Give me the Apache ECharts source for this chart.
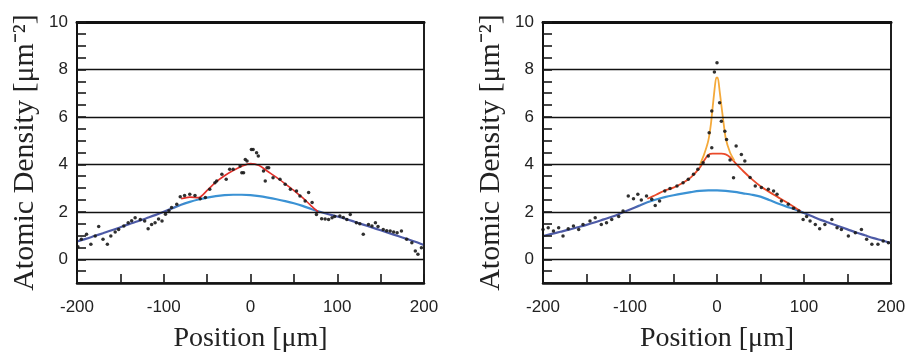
<!DOCTYPE html>
<html>
<head>
<meta charset="utf-8">
<script src="https://cdn.jsdelivr.net/npm/echarts@6/dist/echarts.min.js"></script>
<style>
html,body{margin:0;padding:0;background:#fff;}
#c{width:910px;height:360px;}
</style>
</head>
<body>
<div id="c"></div>
<script>
// ---------- data ----------
const xTickValues = [-200, -100, 0, 100, 200];
const yTickValues = [0, 2, 4, 6, 8, 10];
const gridValues = [0, 2, 4, 6, 8];

const blueX = [-200,-190,-180,-170,-160,-150,-140,-130,-120,-110,-100,-90,-80,-70,-60,-50,-40,-30,-20,-10,0,10,20,30,40,50,60,70,80,90,100,110,120,130,140,150,160,170,180,190,200];
const leftBlue = [0.75,0.86,0.98,1.10,1.22,1.35,1.48,1.60,1.73,1.86,2.00,2.15,2.30,2.42,2.52,2.60,2.66,2.70,2.72,2.72,2.70,2.66,2.60,2.53,2.45,2.36,2.25,2.12,2.00,1.90,1.80,1.70,1.58,1.46,1.34,1.22,1.10,0.98,0.86,0.74,0.60];
const rightBlue = [0.98,1.07,1.16,1.25,1.35,1.45,1.56,1.68,1.80,1.95,2.10,2.25,2.40,2.52,2.62,2.70,2.77,2.83,2.88,2.90,2.90,2.88,2.84,2.78,2.72,2.64,2.50,2.35,2.22,2.10,1.95,1.80,1.65,1.52,1.39,1.26,1.13,1.01,0.89,0.79,0.68];

const leftRedX = [-80,-70,-60,-50,-40,-30,-20,-10,0,10,20,30,40,50,60,70,78];
const leftRed = [2.55,2.62,2.60,2.90,3.25,3.52,3.74,3.92,4.03,3.95,3.70,3.45,3.18,2.90,2.60,2.25,2.00];

const rightRedX = [-80,-70,-60,-50,-40,-30,-20,-15,-10,-5,0,5,10,15,20,30,40,50,60,70,80,90,96];
const rightRed = [2.55,2.72,2.90,3.02,3.20,3.45,3.85,4.15,4.40,4.45,4.45,4.45,4.42,4.30,4.10,3.72,3.38,3.08,2.84,2.62,2.40,2.17,2.03];

const orangeX = [-20,-15,-10,-7,-5,-3,-1,1,3,5,7,10,15,20];
const orange = [3.95,4.40,5.00,5.70,6.40,7.10,7.65,7.65,7.10,6.50,5.90,5.10,4.50,4.15];

const leftDataX = [-199,-195,-189,-184,-179,-175,-170,-165,-161,-156,-152,-146,-141,-137,-133,-127,-122,-118,-114,-110,-106,-102,-98,-94,-91,-85,-81,-76,-70,-64,-58,-52,-47,-41,-39,-33,-28,-24,-20,-12,-10,-8,-6,-4,1,3,7,9,15,17,19,21,26,34,40,46,53,57,63,67,71,76,82,86,90,94,97,103,107,111,115,122,126,130,136,140,144,147,153,157,161,165,169,174,180,186,190,193,197];
const leftDataY = [0.53,0.84,1.05,0.63,0.98,1.38,0.84,0.63,0.98,1.15,1.26,1.40,1.54,1.62,1.75,1.68,1.61,1.29,1.47,1.54,1.70,1.61,1.90,2.05,2.18,2.32,2.64,2.69,2.74,2.69,2.55,2.60,2.95,3.23,3.30,3.58,3.37,3.79,3.79,3.93,3.65,3.65,4.20,4.14,4.63,4.63,4.49,4.35,3.72,3.30,3.86,3.86,3.44,3.37,3.16,2.95,2.88,2.67,2.46,2.81,2.39,1.89,1.71,1.70,1.68,1.75,1.80,1.82,1.76,1.68,1.89,1.54,1.50,1.05,1.47,1.40,1.54,1.38,1.26,1.20,1.19,1.15,1.12,1.19,0.84,0.70,0.35,0.21,0.49];

const rightDataX = [-200,-194,-188,-182,-177,-171,-165,-159,-154,-146,-140,-133,-127,-121,-113,-108,-102,-96,-91,-87,-81,-75,-71,-66,-60,-54,-46,-39,-33,-27,-22,-16,-10,-9,-6,-6,-3,0,3,5,9,11,15,19,22,28,32,38,44,51,59,65,69,74,82,88,94,99,103,107,113,118,124,132,138,143,151,159,166,172,178,185,191,197];
const rightDataY = [1.26,1.33,1.19,1.33,0.98,1.29,1.40,1.26,1.47,1.61,1.75,1.47,1.54,1.68,1.80,2.03,2.67,2.55,2.74,2.50,2.67,2.53,2.27,2.46,2.88,2.98,3.09,3.23,3.37,3.58,3.79,4.07,4.35,5.33,4.70,6.25,7.89,8.28,6.60,5.82,5.40,5.05,4.18,3.44,4.77,4.42,4.14,3.45,3.09,3.02,2.95,2.88,2.74,2.46,2.32,2.15,2.03,1.68,1.80,1.61,1.47,1.29,1.47,1.68,1.33,1.26,0.98,1.12,1.26,0.84,0.63,0.63,0.77,0.70];

const xTitle = 'Position [μm]';
const yTitle = 'Atomic Density [μm⁻²]';

// ---------- helpers ----------
const zip = (xs, ys) => xs.map((x, i) => [x, ys[i]]);
const SANS = 'Liberation Sans';
const SERIF = 'Liberation Serif';

function blueGradient(lightStart, lightEnd) {
  return new echarts.graphic.LinearGradient(0, 0, 1, 0, [
    { offset: 0, color: '#4d5aa6' },
    { offset: Math.max(0, lightStart - 0.06), color: '#4d5aa6' },
    { offset: lightStart, color: '#3b92d4' },
    { offset: lightEnd, color: '#3b92d4' },
    { offset: Math.min(1, lightEnd + 0.06), color: '#4d5aa6' },
    { offset: 1, color: '#4d5aa6' }
  ]);
}

const grids = [
  { left: 77, right: 486, top: 22, bottom: 77, show: true, borderColor: '#111', borderWidth: 1.5, backgroundColor: 'transparent', z: -1 },
  { left: 543, right: 19, top: 22, bottom: 77, show: true, borderColor: '#111', borderWidth: 1.5, backgroundColor: 'transparent', z: -1 }
];
const TICK = { show: true, inside: true, length: 9, lineStyle: { color: '#1a1a1a', width: 1.6 } };

function xAxisFor(gi) {
  return {
    type: 'value', gridIndex: gi, min: -200, max: 200, interval: 50, z: 10,
    name: xTitle, nameLocation: 'middle', nameGap: 42,
    nameTextStyle: { fontFamily: SERIF, fontSize: 28, color: '#222' },
    axisLine: { show: true, onZero: false, lineStyle: { color: '#111', width: 2.5 } },
    axisTick: TICK,
    axisLabel: {
      fontFamily: SANS, fontSize: 17, color: '#222', margin: 16,
      formatter: v => xTickValues.includes(v) ? String(v) : ''
    },
    splitLine: { show: false }
  };
}
function topAxisFor(gi) {
  return {
    type: 'value', gridIndex: gi, min: -200, max: 200, position: 'top', z: 10,
    axisLine: { show: true, onZero: false, lineStyle: { color: '#111', width: 3 } },
    axisTick: { show: false }, axisLabel: { show: false }, splitLine: { show: false }
  };
}
function yAxisFor(gi) {
  return {
    type: 'value', gridIndex: gi, min: -1, max: 10, interval: 0.5, z: 10,
    name: yTitle, nameLocation: 'middle', nameRotate: 90, nameGap: 37,
    nameTextStyle: { fontFamily: SERIF, fontSize: 30, color: '#222' },
    axisLine: { show: true, onZero: false, lineStyle: { color: '#111', width: 2 } },
    axisTick: TICK,
    axisLabel: {
      fontFamily: SANS, fontSize: 17, color: '#222', margin: 9,
      formatter: v => yTickValues.includes(v) ? String(v) : ''
    },
    splitLine: { show: false }
  };
}
function rightAxisFor(gi) {
  return {
    type: 'value', gridIndex: gi, min: -1, max: 10, position: 'right', z: 10,
    axisLine: { show: true, onZero: false, lineStyle: { color: '#111', width: 1.5 } },
    axisTick: { show: false }, axisLabel: { show: false }, splitLine: { show: false }
  };
}

function gridMarkLine() {
  return {
    silent: true, symbol: ['none', 'none'], label: { show: false },
    lineStyle: { color: '#111', width: 1.3, type: 'solid' },
    emphasis: { disabled: true },
    data: gridValues.map(v => ({ yAxis: v }))
  };
}

function lineSeries(xi, yi, data, color, width, extra) {
  return Object.assign({
    type: 'line', xAxisIndex: xi, yAxisIndex: yi, data: data,
    showSymbol: false, smooth: 0.3, silent: true,
    lineStyle: { color: color, width: width }, z: 3
  }, extra || {});
}
function dotSeries(xi, yi, data) {
  return {
    type: 'scatter', xAxisIndex: xi, yAxisIndex: yi, data: data,
    symbol: 'circle', symbolSize: 3.5, silent: true,
    itemStyle: { color: '#1a1a1a', opacity: 0.9 }, z: 5
  };
}

const option = {
  animation: false,
  grid: grids,
  xAxis: [xAxisFor(0), xAxisFor(1), topAxisFor(0), topAxisFor(1)],
  yAxis: [yAxisFor(0), yAxisFor(1), rightAxisFor(0), rightAxisFor(1)],
  series: [
    lineSeries(0, 0, zip(blueX, leftBlue), blueGradient(0.32, 0.66), 2.2, { markLine: gridMarkLine() }),
    lineSeries(0, 0, zip(leftRedX, leftRed), '#e2302a', 1.6),
    dotSeries(0, 0, zip(leftDataX, leftDataY)),

    lineSeries(1, 1, zip(blueX, rightBlue), blueGradient(0.32, 0.7), 2.2, { markLine: gridMarkLine() }),
    lineSeries(1, 1, zip(rightRedX, rightRed), '#ea4a2a', 1.8),
    lineSeries(1, 1, zip(orangeX, orange), '#f4a93a', 1.8, { smooth: 0.15 }),
    dotSeries(1, 1, zip(rightDataX, rightDataY))
  ]
};

const chart = echarts.init(document.getElementById('c'), null, { renderer: 'canvas' });
chart.setOption(option);
</script>
</body>
</html>
